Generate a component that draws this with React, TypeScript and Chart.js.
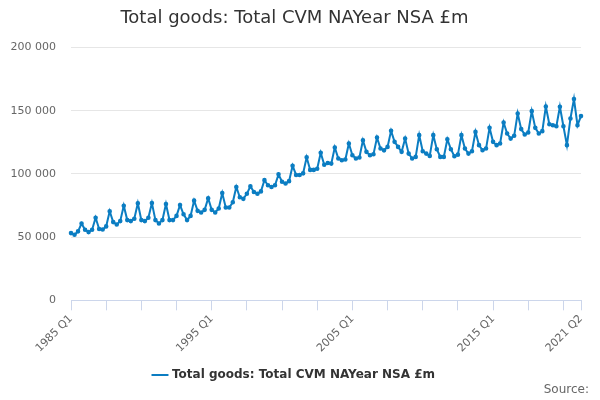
import { useEffect, useRef } from 'react';
import { Chart, registerables } from 'chart.js';

Chart.register(...registerables);

const years = [
  1985, 1986, 1987, 1988, 1989, 1990, 1991, 1992, 1993, 1994, 1995, 1996, 1997,
  1998, 1999, 2000, 2001, 2002, 2003, 2004, 2005, 2006, 2007, 2008, 2009, 2010,
  2011, 2012, 2013, 2014, 2015, 2016, 2017, 2018, 2019, 2020, 2021,
];

const quarterLabels: string[] = [];
years.forEach((y) => {
  ['Q1', 'Q2', 'Q3', 'Q4'].forEach((q) => {
    if (y === 2021 && (q === 'Q3' || q === 'Q4')) return;
    quarterLabels.push(`${y} ${q}`);
  });
});

// £m, quarterly
const totalGoods = [
  53200, 51900, 54600, 60800,
  55900, 54000, 55900, 65400,
  56500, 56000, 58500, 70500,
  61900, 60000, 62700, 74900,
  63500, 62700, 64600, 76800,
  63500, 62700, 65400, 77000,
  63500, 60800, 63500, 76200,
  63500, 63500, 66800, 75400,
  68100, 63500, 66800, 78900,
  70800, 69500, 71600, 80800,
  71600, 69500, 72700, 84900,
  73500, 73500, 77600, 89700,
  81600, 80300, 84300, 90300,
  85700, 84300, 86200, 95100,
  91100, 89700, 91100, 99700,
  93800, 92400, 94300, 106500,
  99200, 99200, 100500, 113200,
  103200, 103200, 104100, 116800,
  107300, 108700, 108200, 121000,
  112200, 110900, 111400, 124100,
  114800, 112200, 113000, 126700,
  117500, 114800, 115600, 128800,
  120100, 118700, 121400, 134100,
  125400, 121400, 117500, 128000,
  116100, 112200, 113500, 130700,
  118000, 116100, 114300, 130700,
  119600, 113500, 113500, 127500,
  119600, 114000, 115300, 130700,
  120100, 116100, 118000, 133300,
  122800, 118800, 120100, 136500,
  125400, 122800, 124100, 140700,
  132000, 128000, 130200, 147900,
  135500, 131200, 132800, 149700,
  136500, 132000, 133900, 153400,
  139400, 138600, 137800, 153200,
  137800, 122800, 143900, 159300,
  138600, 145800,
];

const tickIndexes = [0, 10, 20, 30, 40, 50, 60, 70, 80, 90, 100, 110, 120, 130, 140, 145];
const labelledIndexes = [0, 40, 80, 120, 145];
const yTicks = [0, 50000, 100000, 150000, 200000];

const seriesName = 'Total goods: Total CVM NAYear NSA £m';
const sourceText = 'Source:';
const FONT = '"DejaVu Sans", sans-serif';

// "Source:" credit in the bottom right corner
const sourcePlugin = {
  id: 'sourceCredit',
  afterDraw(chart: any) {
    const c = chart.ctx;
    c.save();
    c.font = `12px ${FONT}`;
    c.fillStyle = '#666666';
    c.textAlign = 'right';
    c.textBaseline = 'middle';
    c.fillText(sourceText, 589, 390);
    c.restore();
  },
};

export default function App() {
  const chartRef = useRef<HTMLCanvasElement>(null);

  useEffect(() => {
    if (!chartRef.current) return;
    const ctx = chartRef.current.getContext('2d');
    if (!ctx) return;

    const chart = new Chart(ctx, {
      type: 'line',
      data: {
        labels: quarterLabels,
        datasets: [{
          label: seriesName,
          data: totalGoods,
          borderColor: '#0b7dc2',
          backgroundColor: '#0b7dc2',
          borderWidth: 2,
          pointRadius: 1.3,
          pointHoverRadius: 3,
          tension: 0,
        }],
      },
      options: {
        animation: false,
        responsive: true,
        maintainAspectRatio: false,
        layout: { padding: { left: 8, right: 19, top: 0, bottom: 9 } },
        scales: {
          x: {
            type: 'category',
            offset: false,
            afterBuildTicks: (scale: any) => {
              scale.ticks = tickIndexes.map((v) => ({ value: v }));
            },
            ticks: {
              autoSkip: false,
              minRotation: 45,
              maxRotation: 45,
              padding: 2,
              color: '#666666',
              font: { family: FONT, size: 11 },
              callback: function (value: any) {
                const i = Number(value);
                return labelledIndexes.includes(i) ? quarterLabels[i] : '';
              },
            },
            grid: {
              drawOnChartArea: false,
              drawTicks: true,
              tickLength: 10,
              color: '#ccd6eb',
            },
            border: { color: '#ccd6eb', width: 1 },
          },
          y: {
            min: 0,
            max: 200000,
            afterBuildTicks: (scale: any) => {
              scale.ticks = yTicks.map((v) => ({ value: v }));
            },
            afterFit: (scale: any) => {
              scale.width = 63;
            },
            ticks: {
              padding: 15,
              color: '#666666',
              font: { family: FONT, size: 11 },
              callback: function (value: any) {
                return Number(value).toString().replace(/\B(?=(\d{3})+(?!\d))/g, ' ');
              },
            },
            grid: { color: '#e6e6e6', drawTicks: false },
            border: { display: false },
          },
        },
        plugins: {
          title: {
            display: true,
            text: seriesName,
            color: '#333333',
            font: { family: FONT, size: 18, weight: 'normal' },
            padding: { top: 8, bottom: 18 },
          },
          legend: {
            position: 'bottom',
            labels: {
              usePointStyle: true,
              pointStyle: 'line',
              boxWidth: 16,
              color: '#333333',
              font: { family: FONT, size: 12, weight: 'bold' },
              padding: 12,
            },
          },
          tooltip: { enabled: false },
        },
      },
      plugins: [sourcePlugin],
    });

    return () => {
      chart.destroy();
    };
  }, []);

  return (
    <div style={{ position: 'fixed', left: 0, top: 0, width: 600, height: 400, background: '#ffffff' }}>
      <canvas ref={chartRef}></canvas>
    </div>
  );
}
